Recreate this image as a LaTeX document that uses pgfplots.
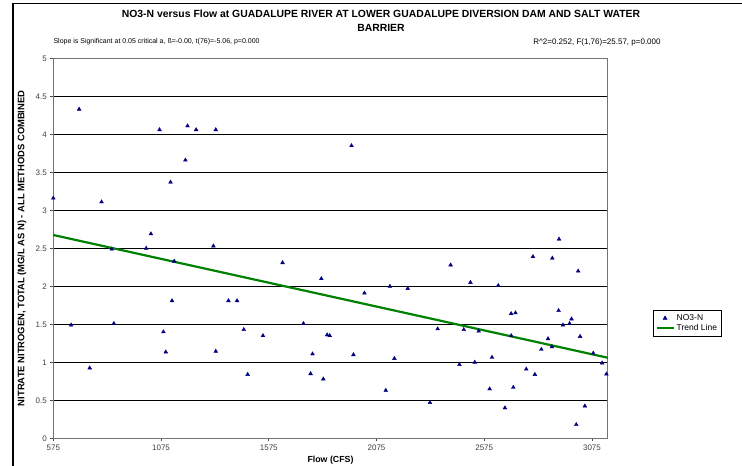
\documentclass[border=0pt]{standalone}
\usepackage{fontspec}
\setmainfont{Liberation Sans}
\usepackage{pgfplots}
\pgfplotsset{compat=1.18}
\definecolor{navyb}{RGB}{0,0,128}
\definecolor{trendg}{RGB}{0,128,0}
\begin{document}
\begin{tikzpicture}[x=1pt,y=1pt]
\useasboundingbox (0,0) rectangle (742,466);
\draw[line width=1.2pt] (13,0) -- (13,462.5) -- (742,462.5);
\node[font=\fontsize{10.4}{14}\selectfont\bfseries, align=center] at (381,445) {NO3-N versus Flow at GUADALUPE RIVER AT LOWER GUADALUPE DIVERSION DAM AND SALT WATER\\BARRIER};
\node[font=\fontsize{7}{8}\selectfont, anchor=west] at (50,424) {Slope is Significant at 0.05 critical a, ß=-0.00, t(76)=-5.06, p=0.000};
\node[font=\fontsize{8}{9}\selectfont] at (597,424) {R\textasciicircum 2=0.252, F(1,76)=25.57, p=0.000};
\begin{axis}[
  at={(53.3pt,27.7pt)}, anchor=south west,
  scale only axis, width=554.4pt, height=380pt,
  xmin=575, xmax=3148, ymin=0, ymax=5,
  xtick={575,1075,1575,2075,2575,3075},
  ytick={0,0.5,1,1.5,2,2.5,3,3.5,4,4.5,5},
  yticklabels={0,0.5,1,1.5,2,2.5,3,3.5,4,4.5,5},
  xticklabels={575,1075,1575,2075,2575,3075},
  tick label style={font=\fontsize{8}{9}\selectfont, color=black!75},
  tick align=outside, tick pos=left,
  major tick length=3pt,
  every tick/.style={color=black!70, line width=0.6pt},
  ymajorgrids, grid style={black, line width=0.9pt},
  axis line style={color=black!55, line width=1pt},
  xlabel={\textbf{Flow (CFS)}},
  ylabel={\textbf{NITRATE NITROGEN, TOTAL (MG/L AS N) - ALL METHODS COMBINED}},
  label style={font=\fontsize{8.8}{9}\selectfont},
  xlabel style={at={(0.5,0)}, anchor=center, yshift=-22pt},
  every axis y label/.append style={at={(-0.0565,0.5)}, anchor=center, rotate=0, font=\fontsize{9.4}{10}\selectfont},
  legend style={at={(1.082,0.337)}, anchor=north west, font=\fontsize{8.5}{9}\selectfont,
    draw=black, line width=0.6pt, inner sep=2pt, row sep=-1.5pt, cells={anchor=west}},
  legend cell align=left,
  clip=false,
]
\addplot[only marks, mark=triangle*, mark size=2.2pt, color=navyb] coordinates {
(575,3.16) (695,4.33) (799,3.11) (1006,2.50) (1028,2.69) (1068,4.06) (1119,3.37)
(1188,3.66) (1198,4.11) (1238,4.06) (658,1.49) (744,0.925) (846,2.49) (856,1.51)
(1136,2.33) (1126,1.81) (1086,1.40) (1097,1.135) (1329,4.06) (1959,3.85) (1318,2.53)
(1639,2.31) (1819,2.10) (2019,1.91) (2137,2.00) (1388,1.81) (1428,1.81) (1459,1.43)
(1548,1.35) (1736,1.51) (1846,1.36) (1858,1.35) (1329,1.145) (1778,1.11) (1968,1.10)
(1477,0.84) (1769,0.85) (1828,0.78) (2118,0.63) (2922,2.62) (2801,2.39) (2891,2.37)
(2419,2.28) (3011,2.20) (2511,2.05) (2220,1.97) (2640,2.01) (2700,1.64) (2720,1.65)
(2920,1.68) (2980,1.57) (2940,1.49) (2971,1.51) (2359,1.44) (2480,1.43) (2549,1.41)
(2700,1.35) (2871,1.31) (3020,1.34) (2840,1.17) (2889,1.205) (3081,1.12) (2158,1.05)
(2611,1.065) (2460,0.97) (2531,1.00) (3122,0.99) (2770,0.91) (2810,0.84) (3142,0.845)
(2600,0.65) (2710,0.67) (2323,0.47) (2671,0.40) (3042,0.425) (3002,0.18)
};
\addlegendentry{NO3-N}
\addplot[color=trendg, line width=2.2pt, no marks] coordinates {(575,2.675) (3148,1.06)};
\addlegendentry{Trend Line}
\end{axis}
\end{tikzpicture}
\end{document}
